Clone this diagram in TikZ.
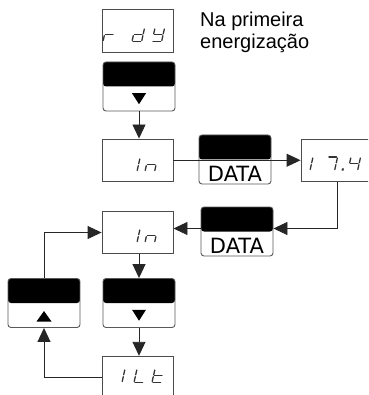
\documentclass[tikz,border=0pt]{standalone}
\usepackage{fontspec}
\usetikzlibrary{arrows.meta}
\newfontfamily\notefont{Liberation Sans}
\newfontfamily\keyfont{DejaVu Sans}

% seven-segment digit: #1,#2 = lower left corner, #3 = segments to light
\newcommand\segdigit[3]{\begin{scope}[shift={(#1pt,-#2pt)},x=1pt,y=1pt,xslant=0.22]#3\end{scope}}
\newcommand\segA{\draw[segline] (1,13.5)--(8.6,13.5);}
\newcommand\segB{\draw[segline] (9.6,12.5)--(9.6,7.7);}
\newcommand\segC{\draw[segline] (9.6,5.8)--(9.6,1);}
\newcommand\segD{\draw[segline] (1,0)--(8.6,0);}
\newcommand\segE{\draw[segline] (0,5.8)--(0,1);}
\newcommand\segF{\draw[segline] (0,12.5)--(0,7.7);}
\newcommand\segG{\draw[segline] (1,6.75)--(8.6,6.75);}
\newcommand\segDot{\fill[black!80] (0,0) rectangle (2,2);}

\tikzset{
  dispbox/.style={draw=black!70, line width=0.9pt, minimum width=71pt,
    minimum height=42.5pt, inner sep=0pt},
  keybox/.style={draw=black!65, line width=0.9pt, rounded corners=3pt,
    minimum width=72pt, minimum height=49pt, inner sep=0pt,
    path picture={\fill[black] (path picture bounding box.north west)
      rectangle (path picture bounding box.east);}},
  conn/.style={line width=0.9pt, draw=black!85,
    -{Triangle[length=14pt,width=13pt]}},
  segline/.style={line width=1.3pt, draw=black!80, line cap=round},
  keylabel/.style={font=\keyfont\fontsize{21}{25}\selectfont, inner sep=0pt, anchor=base},
  notetext/.style={font=\notefont\fontsize{20}{24}\selectfont, inner sep=0pt, anchor=base west},
}

\begin{document}
\begin{tikzpicture}[x=1pt,y=-1pt]
\useasboundingbox (0,0) rectangle (368,395);
\clip (0,0) rectangle (368,395);

% displays
\node[dispbox] (rdy) at (137.5,31) {};
\node[dispbox] (in1) at (137.5,160.25) {};
\node[dispbox, minimum width=72pt] (v174) at (337,160.5) {};
\node[dispbox] (in2) at (137.5,232.5) {};
\node[dispbox] (ilt) at (137.5,377.5) {};

% keys
\node[keybox] (k1) at (139,86.5) {};
\node[keybox] (d1) at (235,159.5) {};
\node[keybox] (d2) at (237,231.5) {};
\node[keybox] (k3) at (139,303) {};
\node[keybox] (k4) at (44,303) {};

% key legends
\fill[black] ([shift={(-7,6.75)}]k1.center) -- ([shift={(7,6.75)}]k1.center)
  -- ([shift={(0,17.75)}]k1.center) -- cycle;
\fill[black] ([shift={(-7,6.75)}]k3.center) -- ([shift={(7,6.75)}]k3.center)
  -- ([shift={(0,17.75)}]k3.center) -- cycle;
\fill[black] ([shift={(-7.5,18.5)}]k4.center) -- ([shift={(7.5,18.5)}]k4.center)
  -- ([shift={(0,8)}]k4.center) -- cycle;
\node[keylabel] (d1t) at ([shift={(0,22)}]d1.center) {DATA};
\node[keylabel] (d2t) at ([shift={(0,22)}]d2.center) {DATA};

% note
\node[notetext] (note1) at (200,26.7) {Na primeira};
\node[notetext] (note2) at (200,48.3) {energização};

% display contents
\segdigit{103}{41.5}{\segE\segG}
\segdigit{132}{41.5}{\segB\segC\segD\segE\segG}
\segdigit{152}{41.5}{\segB\segC\segD\segF\segG}

\segdigit{137}{171.5}{\segE\segF}
\segdigit{145}{171.5}{\segC\segE\segG}

\segdigit{310}{170.5}{\segE\segF}
\segdigit{325}{170.5}{\segA\segB\segC}
\segdigit{341.5}{170.5}{\segDot}
\segdigit{348}{170.5}{\segB\segC\segF\segG}

\segdigit{137}{242.5}{\segE\segF}
\segdigit{145}{242.5}{\segC\segE\segG}

\segdigit{122}{382.5}{\segE\segF}
\segdigit{134}{382.5}{\segD\segE\segF}
\segdigit{152}{382.5}{\segD\segE\segF\segG}

% connectors
\coordinate (d2r) at ([shift={(0,-3)}]d2.east);
\coordinate (d2l) at ([shift={(0,-3)}]d2.west);
\draw[conn] (k1.south) -- (k1.south |- in1.north);
\draw[conn] (in1.east) -- (in1.east -| v174.west);
\draw[conn] (v174.south) |- (d2r);
\draw[conn] (d2l) -- (d2l -| in2.east);
\draw[conn] (in2.south -| k3.north) -- (k3.north);
\draw[conn] (k3.south) -- (k3.south |- ilt.north);
\draw[conn] (ilt.west) -| (k4.south);
\draw[conn] (k4.north) |- (in2.west);
\end{tikzpicture}
\end{document}
